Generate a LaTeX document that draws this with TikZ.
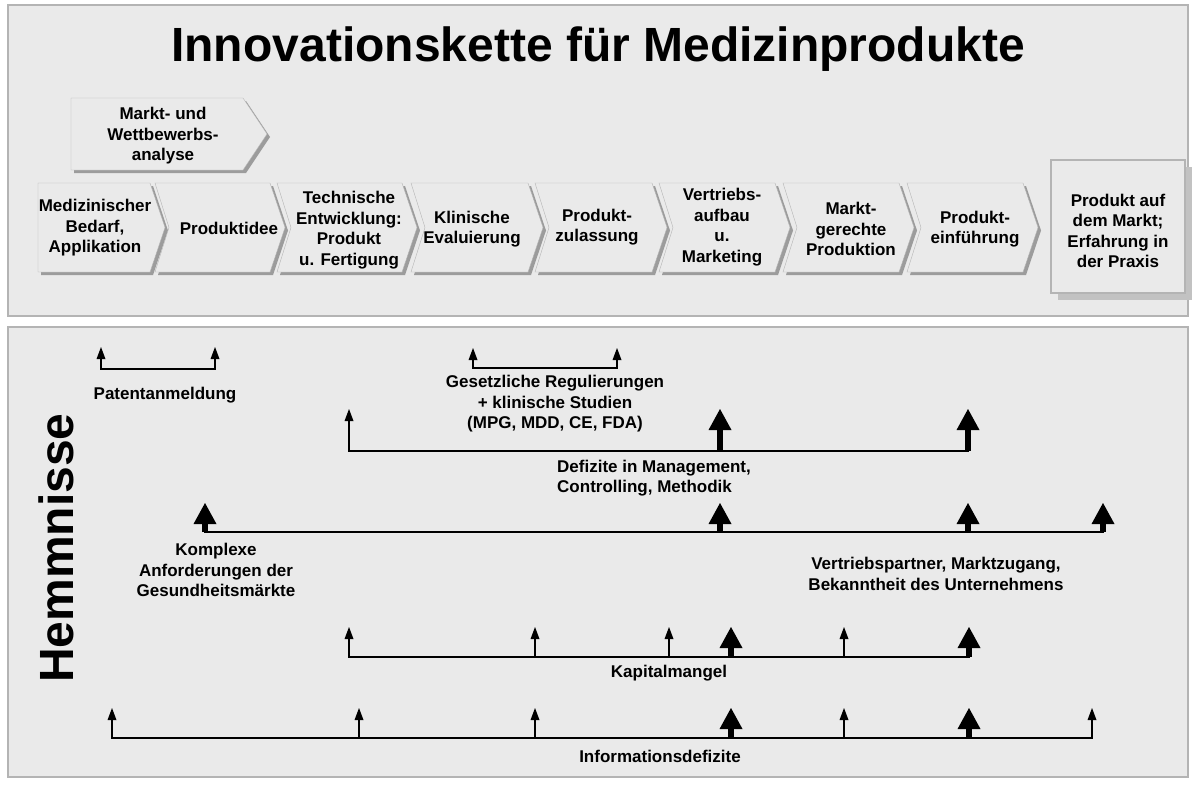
\documentclass[tikz,border=0pt]{standalone}
\usepackage{fontspec}
\setmainfont{Liberation Sans}
\usetikzlibrary{arrows.meta}

\definecolor{panelgray}{HTML}{EAEAEA}
\definecolor{edgegray}{HTML}{B4B4B4}
\definecolor{shadegray}{HTML}{9C9C9C}
\definecolor{boxshade}{HTML}{C2C2C2}

\tikzset{
  txt/.style={font=\bfseries\fontsize{17}{20.5}\selectfont, align=center, inner sep=0pt},
  headline/.style={font=\bfseries\fontsize{48}{52}\selectfont, inner sep=0pt},
  smallarrow/.style={line width=1.2pt, -{Triangle[width=9pt,length=12pt,line width=0pt]}},
  bigarrow/.style={line width=6pt, -{Triangle[width=23pt,length=21pt,line width=0pt]}},
  hline/.style={line width=1.8pt, line cap=rect},
}

\begin{document}
\begin{tikzpicture}[x=1pt,y=-1pt]

\useasboundingbox (0,0) rectangle (1198,784);

\draw[edgegray, fill=panelgray, line width=2pt] (8,5) rectangle (1188,316);
\draw[edgegray, fill=panelgray, line width=2pt] (8,327) rectangle (1188,777);

\node[headline, anchor=base] (title) at (598,62) {Innovationskette für Medizinprodukte};

% chevrons
\fill[shadegray] (74,101) -- (246,101) -- (270,137) -- (246,173) -- (74,173) -- cycle;
\draw[edgegray, fill=panelgray] (71,98) -- (243,98) -- (267,134) -- (243,170) -- (71,170) -- cycle;

\foreach \l/\r/\n in {38/150/0, 155/270/14, 277/402/14, 411/528/14, 535/652/14, 659/775/14, 783/899/14, 907/1023/14} {
    \fill[shadegray] ({\l+3},186) -- ({\r+3},186) -- ({\r+18},230.5) -- ({\r+3},275) -- ({\l+3},275) -- ({\l+\n+3},230.5) -- cycle;
    \draw[edgegray, fill=panelgray] (\l,183) -- (\r,183) -- ({\r+15},227.5) -- (\r,272) -- (\l,272) -- ({\l+\n},227.5) -- cycle;
}

\fill[boxshade] (1058,167) rectangle (1192,300);
\draw[edgegray, fill=panelgray, line width=1.2pt] (1051,160) rectangle (1185,293);

\node[txt] (analysis) at (163,136) {Markt- und\\Wettbewerbs-\\analyse};
\node[txt] (need) at (95,228) {Medizinischer\\Bedarf,\\Applikation};
\node[txt] (idea) at (229,228) {Produktidee};
\node[txt] (dev) at (349,230) {Technische\\Entwicklung:\\Produkt\\u. Fertigung};
\node[txt] (clinic) at (472,229) {Klinische\\Evaluierung};
\node[txt] (approval) at (597,227) {Produkt-\\zulassung};
\node[txt] (sales) at (722,227) {Vertriebs-\\aufbau\\u.\\Marketing};
\node[txt] (prod) at (851,229) {Markt-\\gerechte\\Produktion};
\node[txt] (launch) at (975,229) {Produkt-\\einführung};
\node[txt] (market) at (1118,231) {Produkt auf\\dem Markt;\\Erfahrung in\\der Praxis};

\node[headline, rotate=90, anchor=base] (hemm) at (73,548) {Hemmnisse};

% Hemmnisse
\foreach \x in {101,215} {
    \coordinate (pb\x) at (\x,369);
    \coordinate (pt\x) at (\x,347);
    \draw[smallarrow] (pb\x) -- (pt\x);
}
\draw[hline] (pb101) -- (pb215);

\foreach \x in {473,617} {
    \coordinate (gb\x) at (\x,368);
    \coordinate (gt\x) at (\x,348);
    \draw[smallarrow] (gb\x) -- (gt\x);
}
\draw[hline] (gb473) -- (gb617);

\foreach \x/\s in {349/smallarrow, 720/bigarrow, 968/bigarrow} {
    \coordinate (mb\x) at (\x,451);
    \coordinate (mt\x) at (\x,409);
    \draw[\s] (mb\x) -- (mt\x);
}
\draw[hline] (mb349) -- (mb968);

\foreach \x in {205,720,968,1103} {
    \coordinate (kb\x) at (\x,532);
    \coordinate (kt\x) at (\x,503);
    \draw[bigarrow] (kb\x) -- (kt\x);
}
\draw[hline] (kb205) -- (kb1103);

\foreach \x/\s in {349/smallarrow, 535/smallarrow, 669/smallarrow, 731/bigarrow, 844/smallarrow, 969/bigarrow} {
    \coordinate (cb\x) at (\x,657);
    \coordinate (ct\x) at (\x,627);
    \draw[\s] (cb\x) -- (ct\x);
}
\draw[hline] (cb349) -- (cb969);

\foreach \x/\s in {112/smallarrow, 359/smallarrow, 535/smallarrow, 731/bigarrow, 844/smallarrow, 969/bigarrow, 1092/smallarrow} {
    \coordinate (ib\x) at (\x,738);
    \coordinate (it\x) at (\x,708);
    \draw[\s] (ib\x) -- (it\x);
}
\draw[hline] (ib112) -- (ib1092);

\node[txt] (patent) at (165,395) {Patentanmeldung};
\node[txt] (law) at (555,404) {Gesetzliche Regulierungen\\+ klinische Studien\\(MPG, MDD, CE, FDA)};
\node[txt, align=left, anchor=west] (mgmt) at (557,478) {Defizite in Management,\\Controlling, Methodik};
\node[txt] (complex) at (216,570) {Komplexe\\Anforderungen der\\Gesundheitsmärkte};
\node[txt] (distrib) at (936,574) {Vertriebspartner, Marktzugang,\\Bekanntheit des Unternehmens};
\node[txt] (capital) at (669,673) {Kapitalmangel};
\node[txt] (info) at (660,756) {Informationsdefizite};

\end{tikzpicture}
\end{document}
